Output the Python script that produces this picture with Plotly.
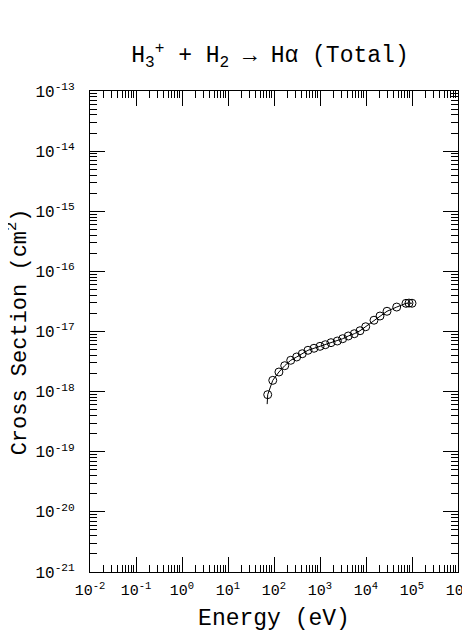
import plotly.graph_objects as go

energy = [73, 94, 128, 171, 231, 311, 412, 548, 741, 1000, 1304, 1734, 2377, 3115,
          4121, 5568, 7413, 9846, 14920, 20150, 28630, 46480, 74100, 86000, 100000]
cross_section = [8.9e-19, 1.54e-18, 2.12e-18, 2.70e-18, 3.32e-18, 3.77e-18, 4.27e-18,
                 4.87e-18, 5.26e-18, 5.67e-18, 6.03e-18, 6.52e-18, 6.95e-18, 7.59e-18,
                 8.42e-18, 9.19e-18, 1.03e-17, 1.20e-17, 1.54e-17, 1.81e-17, 2.17e-17,
                 2.55e-17, 2.94e-17, 2.97e-17, 2.95e-17]
fit_energy = [71] + energy
fit_cross_section = [6.2e-19] + cross_section

x_tickvals = [1e-2, 1e-1, 1e0, 1e1, 1e2, 1e3, 1e4, 1e5, 1e6]
x_ticktext = ["10<sup>-2</sup>", "10<sup>-1</sup>", "10<sup>0</sup>", "10<sup>1</sup>",
              "10<sup>2</sup>", "10<sup>3</sup>", "10<sup>4</sup>", "10<sup>5</sup>", "10<sup>6</sup>"]
y_tickvals = [1e-21, 1e-20, 1e-19, 1e-18, 1e-17, 1e-16, 1e-15, 1e-14, 1e-13]
y_ticktext = ["10<sup>-21</sup>", "10<sup>-20</sup>", "10<sup>-19</sup>", "10<sup>-18</sup>",
              "10<sup>-17</sup>", "10<sup>-16</sup>", "10<sup>-15</sup>", "10<sup>-14</sup>",
              "10<sup>-13</sup>"]
y_title = "Cross Section (cm<sup>2</sup>)"

FONT = "Liberation Mono"

fig = go.Figure()
fig.add_trace(go.Scatter(x=fit_energy, y=fit_cross_section, mode="lines",
                         line=dict(color="black", width=1), showlegend=False))
fig.add_trace(go.Scatter(x=energy, y=cross_section, mode="markers",
                         marker=dict(symbol="circle-open", size=8, color="black",
                                     line=dict(width=1, color="black")),
                         showlegend=False))

axis_common = dict(
    type="log", showgrid=False, zeroline=False, showline=True, linecolor="black",
    linewidth=1, mirror="allticks", ticks="inside", ticklen=15, tickwidth=1,
    tickcolor="black", ticklabeloverflow="allow", automargin=False,
    minor=dict(ticks="inside", ticklen=7, tickwidth=1, tickcolor="black",
               dtick="D1", showgrid=False),
)

fig.update_xaxes(**axis_common, range=[-2, 6], tickvals=x_tickvals, ticktext=x_ticktext,
                 ticklabelstandoff=4,
                 tickfont=dict(family=FONT, size=15, color="black"),
                 title=dict(text="Energy (eV)", font=dict(family=FONT, size=23, color="black"),
                            standoff=9))
fig.update_yaxes(**axis_common, range=[-21, -13], tickvals=y_tickvals, ticktext=y_ticktext,
                 ticklabelstandoff=11,
                 tickfont=dict(family=FONT, size=16, color="black"))

fig.add_annotation(text=y_title, xref="paper", yref="paper", x=-0.196, y=0.5,
                   xanchor="center", yanchor="middle", textangle=-90, showarrow=False,
                   font=dict(family=FONT, size=22, color="black"))

fig.update_layout(
    width=462, height=626,
    margin=dict(l=82, r=12, t=83, b=62),
    paper_bgcolor="white", plot_bgcolor="white",
    title=dict(text="H<sub>3</sub><sup>+</sup> + H<sub>2</sub> → Hα (Total)",
               font=dict(family=FONT, size=23, color="black"),
               x=0.567, xanchor="center", y=0.926, yanchor="middle"),
)

fig.write_html("out.html")
